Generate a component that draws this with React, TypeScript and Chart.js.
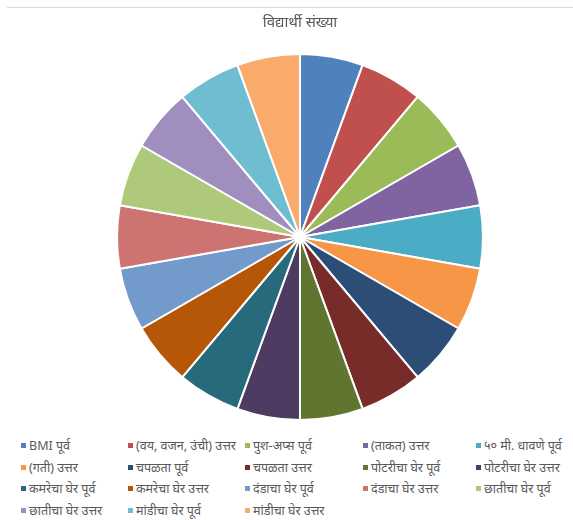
import React, { useEffect, useRef } from "react";
import { Chart, registerables } from "chart.js";

Chart.register(...registerables);

const TITLE = "विद्यार्थी संख्या";

const categories = [
  "BMI पूर्व",
  "(वय, वजन, उंची) उत्तर",
  "पुश-अप्स पूर्व",
  "(ताकत) उत्तर",
  "५० मी. धावणे पूर्व",
  "(गती) उत्तर",
  "चपळता पूर्व",
  "चपळता उत्तर",
  "पोटरीचा घेर पूर्व",
  "पोटरीचा घेर उत्तर",
  "कमरेचा घेर पूर्व",
  "कमरेचा घेर उत्तर",
  "दंडाचा घेर पूर्व",
  "दंडाचा घेर उत्तर",
  "छातीचा घेर पूर्व",
  "छातीचा घेर उत्तर",
  "मांडीचा घेर पूर्व",
  "मांडीचा घेर उत्तर",
];

const values = [1, 1, 1, 1, 1, 1, 1, 1, 1, 1, 1, 1, 1, 1, 1, 1, 1, 1];

const colors = [
  "#4F81BD",
  "#C0504D",
  "#9BBB59",
  "#8064A2",
  "#4BACC6",
  "#F79646",
  "#2C4D75",
  "#772C2A",
  "#5F7530",
  "#4D3B62",
  "#276A7C",
  "#B65708",
  "#729ACA",
  "#CD7371",
  "#AFC97A",
  "#A08EBE",
  "#6FBDD1",
  "#F9AB6B",
];

const legendColX = [21, 128, 245, 363, 476];
const legendRowY = [445, 467, 488, 510];

const FONT = "'Noto Sans', 'Noto Sans Devanagari', 'Lohit Devanagari', sans-serif";

export default function App() {
  const ref = useRef<HTMLCanvasElement | null>(null);

  useEffect(() => {
    if (!ref.current) return;
    const chart = new Chart(ref.current, {
      type: "pie",
      data: {
        labels: categories,
        datasets: [
          {
            data: values,
            backgroundColor: colors,
            borderColor: "#ffffff",
            borderWidth: 2,
          },
        ],
      },
      options: {
        animation: false,
        responsive: false,
        maintainAspectRatio: false,
        layout: { padding: { left: 116, right: 89, top: 53, bottom: 9 } },
        plugins: {
          legend: { display: false },
          title: { display: false },
          tooltip: { enabled: false },
        },
      },
    });
    return () => chart.destroy();
  }, []);

  return (
    <div
      style={{
        position: "fixed",
        left: 0,
        top: 0,
        width: 573,
        height: 520,
        background: "#fff",
        fontFamily: FONT,
      }}
    >
      <div
        style={{
          position: "absolute",
          left: 7,
          top: 7,
          width: 566,
          height: 0,
          borderTop: "1px solid #d9d9d9",
        }}
      />
      <canvas
        ref={ref}
        width={573}
        height={430}
        style={{ position: "absolute", left: 0, top: 0, width: 573, height: 430 }}
      />
      <div
        style={{
          position: "absolute",
          left: 0,
          width: 600,
          top: 11,
          textAlign: "center",
          fontSize: 15,
          color: "#595959",
        }}
      >
        {TITLE}
      </div>
      {categories.map((c, i) => {
        const col = i % 5;
        const row = Math.floor(i / 5);
        return (
          <div
            key={i}
            style={{
              position: "absolute",
              left: legendColX[col],
              top: legendRowY[row] - 9,
              height: 18,
              display: "flex",
              alignItems: "center",
              whiteSpace: "nowrap",
              fontSize: 12.5,
              color: "#595959",
            }}
          >
            <span
              style={{
                display: "inline-block",
                width: 5,
                height: 5,
                background: colors[i],
                marginRight: 3,
              }}
            />
            <span>{c}</span>
          </div>
        );
      })}
    </div>
  );
}
